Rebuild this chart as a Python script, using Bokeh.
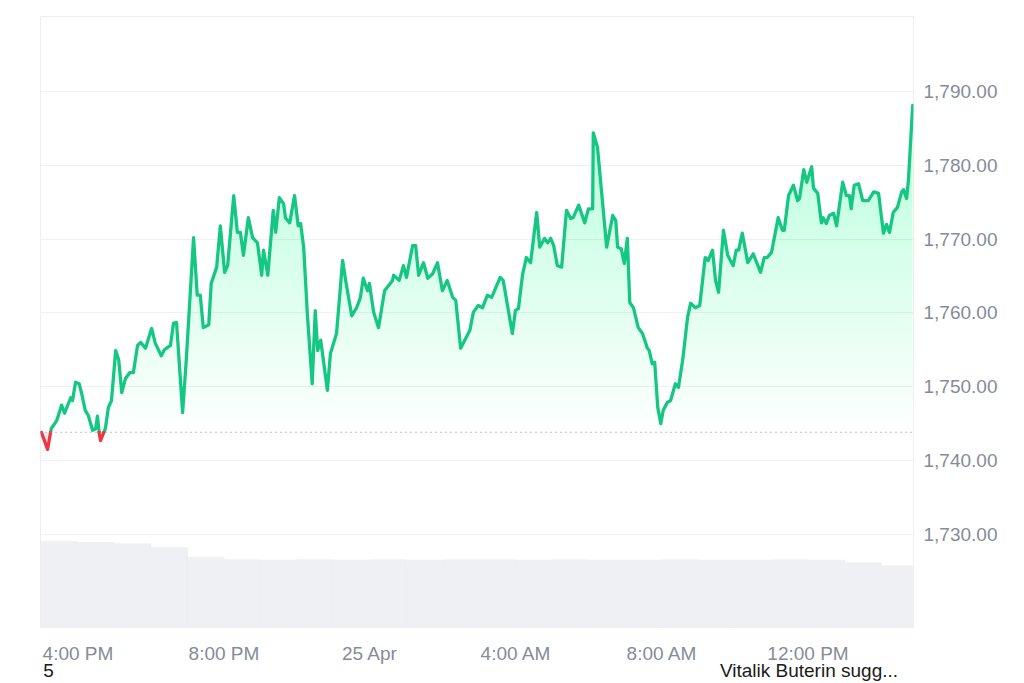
from datetime import datetime
from bokeh.plotting import figure
from bokeh.models import (FixedTicker, NumeralTickFormatter, Span, Range1d, LinearAxis)
from bokeh.embed import file_html
from bokeh.resources import INLINE

# ---------------- data ----------------
start_time = datetime(2025, 4, 24, 15, 0)

minutes = [0,10,16,25,33,38,48,51,56,62,66,72,77,84,89,92,95,97,105,110,
           115,122,127,132,138,145,151,158,163,171,181,187,197,202,212,217,222,232,238,250,
           256,261,266,275,279,288,294,301,306,316,322,327,332,340,347,355,362,365,372,381,
           385,391,398,401,408,416,422,426,431,437,445,450,454,459,470,475,485,495,500,510,
           518,524,529,536,539,546,554,564,577,579,588,595,600,610,615,620,628,635,643,651,
           659,667,676,681,689,704,710,718,725,733,740,754,759,774,779,784,791,797,804,814,
           819,827,832,837,842,848,855,863,870,874,883,893,899,906,907,914,929,939,944,947,
           953,958,963,967,973,981,988,996,999,1004,1008,1013,1018,1022,1029,1034,1042,1047,1054,1062,
           1067,1075,1082,1091,1096,1103,1108,1113,1121,1128,1137,1142,1146,1152,1161,1170,1182,1188,1193,1200,
           1211,1218,1221,1228,1236,1243,1246,1253,1258,1266,1269,1276,1282,1285,1290,1295,1302,1307,1317,1323,
           1328,1331,1336,1343,1350,1359,1368,1376,1384,1389,1394,1400,1407,1414,1417,1422,1425,1432]

prices = [1743.8,1741.5,1744.3,1745.4,1747.5,1746.4,1748.5,1748.1,1750.6,1750.4,
          1749.1,1746.8,1746.1,1744.1,1744.3,1746.0,1743.7,1742.7,1744.3,1747.2,
          1748.1,1754.9,1753.6,1749.2,1751.1,1751.9,1751.9,1755.6,1756.0,1755.2,
          1757.9,1755.9,1754.2,1755.0,1755.6,1758.6,1758.7,1746.5,1753.6,1770.2,
          1762.4,1762.4,1758.0,1758.4,1764.0,1766.2,1771.8,1765.5,1766.4,1775.9,
          1770.9,1770.9,1767.8,1772.9,1770.2,1769.5,1765.1,1768.5,1765.1,1773.9,
          1770.9,1775.6,1774.8,1772.9,1772.2,1775.9,1771.8,1772.1,1768.9,1759.9,
          1750.4,1760.3,1754.9,1756.3,1749.5,1754.5,1757.2,1767.1,1764.4,1759.6,
          1760.7,1762.0,1764.7,1763.0,1764.0,1760.1,1758.0,1763.0,1764.4,1765.1,
          1764.4,1766.4,1764.8,1769.1,1769.1,1765.1,1766.8,1764.7,1765.3,1766.8,
          1763.0,1764.4,1762.1,1761.7,1755.2,1757.6,1760.1,1761.0,1760.7,1762.4,
          1762.1,1764.8,1764.4,1757.2,1760.3,1760.6,1765.3,1767.5,1766.8,1773.6,
          1768.9,1770.1,1769.5,1770.1,1769.1,1766.4,1766.2,1773.9,1772.8,1772.9,
          1774.6,1772.2,1774.1,1774.1,1784.4,1782.4,1768.9,1773.2,1772.5,1768.9,
          1768.7,1766.7,1770.1,1761.4,1760.7,1758.0,1757.2,1755.2,1754.9,1753.1,
          1753.3,1747.2,1745.0,1746.8,1747.9,1748.1,1750.4,1749.9,1753.6,1759.4,
          1761.3,1760.7,1761.0,1767.5,1767.1,1768.5,1764.4,1762.8,1771.2,1767.8,
          1766.4,1768.5,1768.5,1770.8,1766.8,1768.0,1765.5,1767.5,1767.5,1768.2,
          1772.9,1771.2,1771.2,1775.9,1777.3,1775.2,1775.5,1779.4,1777.7,1779.8,
          1776.9,1776.2,1772.2,1772.9,1772.1,1773.2,1773.5,1771.8,1777.7,1775.9,
          1775.9,1774.1,1777.3,1777.5,1775.2,1775.2,1776.4,1776.2,1770.8,1772.0,
          1770.9,1773.6,1774.3,1776.4,1776.7,1775.5,1777.9,1788.1]

# hourly volume (relative units), hours starting 15:00
volume_hours = list(range(24))
volumes = [141,139,137,131,115,111,110,111,110,111,110,111,
           111,110,111,110,110,111,110,110,111,110,106,101]

y_ticks = [1730, 1740, 1750, 1760, 1770, 1780, 1790]
tick_times = [datetime(2025, 4, 24, 16), datetime(2025, 4, 24, 20), datetime(2025, 4, 25, 0),
              datetime(2025, 4, 25, 4), datetime(2025, 4, 25, 8), datetime(2025, 4, 25, 12)]
tick_labels = ["4:00 PM", "8:00 PM", "25 Apr", "4:00 AM", "8:00 AM", "12:00 PM"]

captions = ["5", "Vitalik Buterin sugg..."]
caption_centers = [11.5, 1261.6]   # horizontal anchor (minutes axis) of each caption

GREEN = "#16c784"
RED = "#ea3943"
LABEL_COLOR = "#858c98"
FONT = "Liberation Sans"

# ---------------- figure ----------------
p = figure(width=1024, height=683, output_backend="svg", toolbar_location=None,
           x_range=Range1d(-1.6, 1433.4), y_range=Range1d(1717.37, 1800.16),
           y_axis_location="right", min_border_left=40, min_border_right=111,
           min_border_top=16, min_border_bottom=56)
p.background_fill_color = "white"
p.border_fill_color = "white"
p.outline_line_color = "#eceef1"
p.outline_line_width = 1

p.extra_y_ranges = {"vol": Range1d(0, 1000)}

# grid
p.xgrid.visible = False
p.ygrid.ticker = FixedTicker(ticks=y_ticks)
p.ygrid.grid_line_color = "#eff1f4"
p.ygrid.grid_line_width = 1

# volume bars
vol_x = [h * 60 + 30 for h in volume_hours]
p.vbar(x=vol_x, top=volumes, width=60, bottom=0, y_range_name="vol",
       fill_color="#eef0f3", line_color="#eef0f3", line_width=0.8)

base = prices[0]

# gradient area above the baseline (stacked translucent layers)
n_layers = 38
top_level = 1790.0
alpha_each = 1 - (1 - 0.24) ** (1.0 / n_layers)
for k in range(n_layers):
    lvl = base + (top_level - base) * k / n_layers
    y2 = [max(v, lvl) for v in prices]
    p.varea(x=minutes, y1=[lvl] * len(minutes), y2=y2,
            fill_color="#1bc38a", fill_alpha=alpha_each)

# red area below baseline
p.varea(x=minutes, y1=[min(v, base) for v in prices], y2=[base] * len(prices),
        fill_color=RED, fill_alpha=0.12)

# baseline (dotted)
p.add_layout(Span(location=base, dimension="width", line_color="#9aa0a8",
                  line_width=1.3, line_dash="1 4"))

# split price line into above/below baseline segments
g_xs, g_ys, r_xs, r_ys = [], [], [], []
cx, cy = [minutes[0]], [prices[0]]
cur_above = prices[0] >= base
for i in range(1, len(prices)):
    x0, y0, x1, y1 = minutes[i - 1], prices[i - 1], minutes[i], prices[i]
    above = y1 >= base
    if above != cur_above:
        t = (base - y0) / (y1 - y0) if y1 != y0 else 0.0
        xc = x0 + t * (x1 - x0)
        cx.append(xc); cy.append(base)
        (g_xs if cur_above else r_xs).append(cx)
        (g_ys if cur_above else r_ys).append(cy)
        cx, cy = [xc], [base]
        cur_above = above
    cx.append(x1); cy.append(y1)
(g_xs if cur_above else r_xs).append(cx)
(g_ys if cur_above else r_ys).append(cy)

p.multi_line(xs=g_xs, ys=g_ys, line_color=GREEN, line_width=3.3,
             line_join="round", line_cap="round")
p.multi_line(xs=r_xs, ys=r_ys, line_color=RED, line_width=3.3,
             line_join="round", line_cap="round")

# axes
ax = p.yaxis[0]
ax.ticker = FixedTicker(ticks=y_ticks)
ax.formatter = NumeralTickFormatter(format="0,0.00")
ax.axis_line_color = None
ax.major_tick_line_color = None
ax.minor_tick_line_color = None
ax.major_tick_out = 0
ax.major_tick_in = 0
ax.major_label_standoff = 10
ax.major_label_text_font = FONT
ax.major_label_text_font_size = "19px"
ax.major_label_text_color = LABEL_COLOR

tick_pos = [(t - start_time).total_seconds() / 60.0 for t in tick_times]
xa = p.xaxis[0]
xa.ticker = FixedTicker(ticks=tick_pos)
xa.major_label_overrides = {tp: lab for tp, lab in zip(tick_pos, tick_labels)}
xa.axis_line_color = None
xa.major_tick_line_color = None
xa.minor_tick_line_color = None
xa.major_tick_out = 0
xa.major_tick_in = 0
xa.major_label_standoff = 15
xa.major_label_text_font = FONT
xa.major_label_text_font_size = "19px"
xa.major_label_text_color = LABEL_COLOR

# captions under the chart, as a second (tickless) bottom axis
cap_axis = LinearAxis(ticker=FixedTicker(ticks=caption_centers),
                      major_label_overrides={c: t for c, t in zip(caption_centers, captions)},
                      axis_line_color=None, major_tick_line_color=None,
                      minor_tick_line_color=None, major_tick_out=0, major_tick_in=0,
                      major_label_standoff=-7, major_label_text_font=FONT,
                      major_label_text_font_size="19px", major_label_text_color="#1a1a1a")
p.add_layout(cap_axis, "below")

open("out.html", "w").write(file_html(p, INLINE))
